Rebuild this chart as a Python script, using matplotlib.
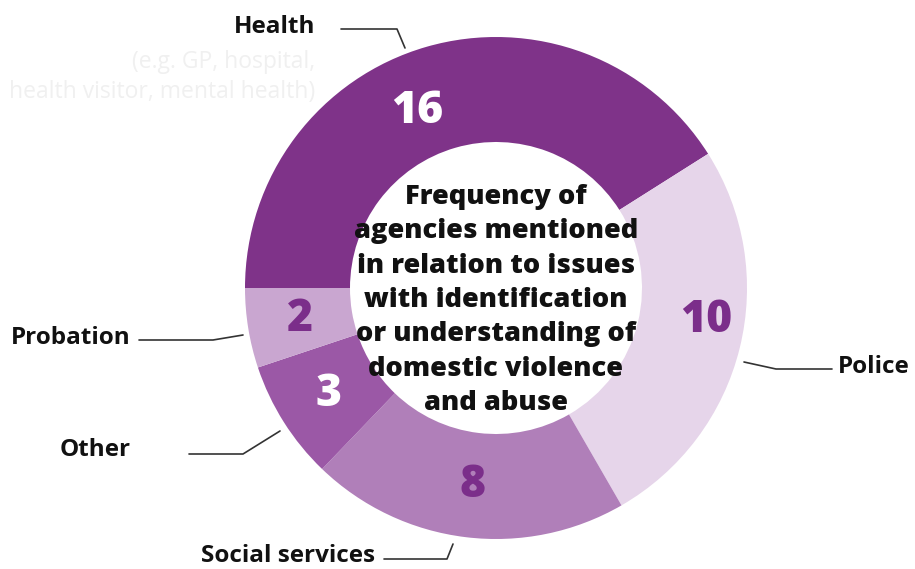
import numpy as np
import matplotlib
matplotlib.use("Agg")
import matplotlib.pyplot as plt

plt.rcParams['font.family'] = ['Open Sans', 'DejaVu Sans']

agencies = ['Health', 'Police', 'Social services', 'Other', 'Probation']
counts = [16, 10, 8, 3, 2]
colors = ['#7f3389', '#e6d5ea', '#b07fb9', '#9b58a6', '#c9a6d0']
number_colors = ['white', '#7b2e8a', '#7b2e8a', 'white', '#7b2e8a']
title = ('Frequency of\nagencies mentioned\nin relation to issues\n'
         'with identification\nor understanding of\ndomestic violence\nand abuse')
health_note = '(e.g. GP, hospital,\nhealth visitor, mental health)'

W, H = 915, 569
fig = plt.figure(figsize=(W / 100, H / 100), dpi=100)
ax = fig.add_axes([0, 0, 1, 1])

cx, cy = 496, H - 288
R, r_in = 251, 146

wedges, _ = ax.pie(counts, colors=colors, startangle=180, counterclock=False,
                   center=(cx, cy), radius=R,
                   wedgeprops=dict(width=R - r_in, linewidth=0))

# numbers inside the ring, nudged a little along the ring for some slices
nudge = {0: (8, -5), 1: (5, 14)}
for i, w in enumerate(wedges):
    mid = (w.theta1 + w.theta2) / 2
    da, dr = nudge.get(i, (0, 0))
    ang = np.deg2rad(mid + da)
    rr = (R + r_in) / 2 + dr
    ax.text(cx + rr * np.cos(ang), cy + rr * np.sin(ang), str(counts[i]),
            ha='center', va='center', fontsize=32, fontweight=800,
            color=number_colors[i])

ax.text(cx, cy - 12, title, ha='center', va='center', fontsize=19.6,
        fontweight=800, color='#111111', linespacing=1.42)

# outside labels with leader lines
def leader(pts):
    xs = [p[0] for p in pts]
    ys = [H - p[1] for p in pts]
    ax.plot(xs, ys, color='#333333', linewidth=1.2, solid_capstyle='round')

label_kw = dict(fontsize=17.5, fontweight='bold', color='#111111', va='center')
ax.text(315, H - 27, 'Health', ha='right', **label_kw)
leader([(341, 29), (397, 29), (405, 48)])
ax.text(315, H - 77, health_note, ha='right', va='center', fontsize=16.5,
        color='#f0f0f0', linespacing=1.3)

ax.text(838, H - 367, 'Police', ha='left', **label_kw)
leader([(744, 362), (776, 369), (832, 369)])

ax.text(375, H - 556, 'Social services', ha='right', **label_kw)
leader([(384, 559), (447, 559), (453, 544)])

ax.text(131, H - 450, 'Other', ha='right', **label_kw)
leader([(189, 454), (243, 454), (280, 431)])

ax.text(131, H - 338, 'Probation', ha='right', **label_kw)
leader([(139, 340), (213, 340), (243, 335)])

ax.set_xlim(0, W)
ax.set_ylim(0, H)
ax.set_aspect('equal')
ax.axis('off')

fig.savefig('out.png', dpi=100, facecolor='white')
